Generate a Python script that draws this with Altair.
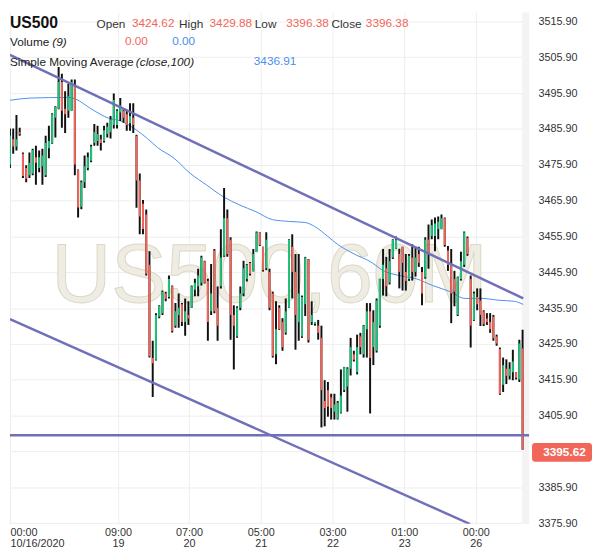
import altair as alt
import pandas as pd

# ---------------- data ----------------
opens = [3476, 3483, 3481, 3485, 3479, 3475, 3473, 3473.5, 3478, 3475,
         3475.5, 3473, 3480.5, 3482, 3489, 3491.5, 3499, 3491.5, 3491, 3491,
         3498, 3474.5, 3464.2, 3471, 3475, 3477, 3482, 3482.5, 3483, 3482.5,
         3484.5, 3485, 3487, 3487, 3490.5, 3491, 3490, 3487.5, 3489, 3484,
         3471.5, 3465, 3462, 3448, 3422, 3421.5, 3433.5, 3434.5, 3440, 3439,
         3442, 3431, 3434, 3437, 3432, 3434, 3436, 3441, 3442, 3443,
         3449, 3443.5, 3435, 3452, 3436, 3442, 3450.5, 3461, 3455, 3434,
         3428, 3436, 3440, 3444, 3448.5, 3446, 3451.5, 3457, 3453, 3447,
         3446, 3440, 3423, 3436, 3432, 3429, 3436, 3453, 3446, 3432,
         3428, 3437, 3449.5, 3432, 3431.5, 3431, 3427.6, 3410, 3413, 3411,
         3407, 3405, 3406.7, 3413, 3414, 3419, 3423, 3418, 3428, 3423,
         3430, 3435, 3425, 3424, 3431, 3444, 3447, 3443, 3450, 3452.5,
         3451, 3453, 3446, 3444, 3450, 3446, 3451, 3446, 3444.5, 3455,
         3456, 3456, 3458, 3458, 3461, 3452, 3448, 3444, 3434, 3444,
         3448, 3455.5, 3444, 3432.5, 3439, 3438, 3435, 3433, 3432, 3433.5,
         3428, 3424.5, 3414.5, 3419, 3417, 3418, 3418, 3416, 3424.62]
highs = [3486, 3486, 3489.8, 3486.2, 3479.3, 3475.8, 3479.3, 3480.4, 3481.2, 3479.9,
         3480.4, 3484, 3486.8, 3490.3, 3492.2, 3503.2, 3501.3, 3496.4, 3498.6, 3499.7,
         3499.7, 3474.6, 3471.5, 3478.5, 3479.3, 3481.5, 3487.3, 3486.8, 3484.3, 3486.8,
         3487.6, 3489.5, 3495.8, 3491.4, 3494.5, 3491.4, 3490.9, 3493.1, 3493.1, 3484.3,
         3473.5, 3466.1, 3463.4, 3451.8, 3426.8, 3434.5, 3436.7, 3440.8, 3440.5, 3445,
         3442.2, 3437.3, 3440, 3437.3, 3438.6, 3437.8, 3442.2, 3444.1, 3446.9, 3450.5,
         3449.1, 3444.1, 3448.2, 3452.4, 3441.9, 3457.9, 3469.4, 3463.4, 3455.7, 3436.7,
         3436.4, 3441.9, 3449.1, 3448.2, 3448.8, 3452.4, 3457.3, 3457.1, 3453, 3457.1,
         3446.9, 3440.5, 3437.8, 3436.7, 3433.1, 3438.6, 3455.1, 3456.5, 3451, 3451,
         3439.4, 3450.2, 3449.6, 3437.8, 3432, 3432.6, 3431, 3415.8, 3415.3, 3412,
         3412, 3410, 3418.8, 3419.5, 3419.4, 3427.6, 3424, 3428.5, 3429, 3431.2,
         3437.3, 3437.3, 3435.3, 3438.6, 3444.1, 3452.4, 3450.2, 3452.4, 3455.1, 3455.9,
         3452.5, 3453, 3451, 3451, 3453.7, 3453, 3453, 3447.4, 3455.7, 3459.2,
         3460.6, 3461.2, 3461.5, 3462, 3461.2, 3453.2, 3452.4, 3446.3, 3444.7, 3451.6,
         3457.3, 3455.9, 3445, 3440.5, 3441.4, 3441.4, 3435.3, 3434.5, 3434.5, 3434,
         3428.5, 3424.9, 3422.1, 3421.6, 3420.8, 3424.3, 3418, 3427.1, 3429.88]
lows = [3475, 3479, 3479.9, 3484, 3472.2, 3471, 3472.2, 3473, 3470.3, 3473.8,
        3470.3, 3472.5, 3477.7, 3481.8, 3483.5, 3491.4, 3486.2, 3484.8, 3489, 3491,
        3473, 3461.2, 3463.5, 3469.4, 3474.4, 3476.6, 3481.2, 3481.2, 3479.9, 3482.1,
        3483.5, 3483.2, 3486, 3486, 3488.1, 3487.6, 3485.4, 3485.4, 3484.8, 3463.9,
        3456.5, 3456.5, 3445, 3422.1, 3411.1, 3421.3, 3433.1, 3434, 3437.8, 3438.6,
        3429.1, 3430.4, 3430.4, 3430.9, 3428.2, 3431.2, 3435.9, 3439.2, 3439.2, 3442.2,
        3442.8, 3426.8, 3434, 3434.5, 3426.8, 3441.4, 3450.2, 3450.2, 3427.1, 3418.8,
        3427.6, 3435.3, 3439.2, 3443.3, 3445, 3446.3, 3451.6, 3453.2, 3446.1, 3446.5,
        3435.3, 3422.1, 3420.2, 3429.8, 3424, 3428.5, 3435.9, 3438.6, 3424.3, 3426.8,
        3427.6, 3433.7, 3426.3, 3431.2, 3431, 3427.1, 3402.6, 3402.9, 3405.6, 3404.8,
        3404.8, 3404.8, 3406.5, 3412.5, 3407, 3417.1, 3421, 3417.4, 3423, 3422.1,
        3422.1, 3406.5, 3420, 3423.5, 3430.4, 3439.4, 3439.2, 3442.5, 3449.6, 3452.4,
        3441.4, 3440.8, 3440.8, 3443.5, 3443.6, 3444.7, 3447.4, 3436.7, 3444.1, 3446.9,
        3455.1, 3451.8, 3455.1, 3457.9, 3453, 3446.3, 3431.7, 3436.4, 3433.7, 3443.6,
        3447.4, 3450.5, 3424.9, 3432.3, 3435.3, 3430.9, 3430.9, 3431.2, 3429, 3426.8,
        3425.4, 3411.7, 3412.5, 3414.7, 3416, 3415.8, 3416, 3415.3, 3396.38]
closes = [3484, 3481, 3483, 3484.5, 3472.8, 3472, 3476.5, 3480, 3476.5, 3478,
          3478.5, 3482, 3482.5, 3490, 3492, 3499, 3491, 3490, 3495, 3499,
          3476, 3464, 3471, 3475.5, 3478, 3481, 3485, 3484.5, 3482, 3485.5,
          3486.5, 3488.5, 3494, 3491, 3492.5, 3489, 3487, 3489.5, 3487, 3471.5,
          3461.5, 3458, 3445.5, 3422.5, 3420.5, 3434, 3436.5, 3440.5, 3438.5, 3444,
          3429.5, 3435, 3436, 3432, 3435, 3433, 3442, 3443, 3445, 3450,
          3443, 3432, 3440, 3435, 3431, 3450, 3461, 3451, 3434, 3431,
          3436, 3440, 3447, 3448, 3445.5, 3451, 3457, 3453.5, 3446.5, 3455,
          3436, 3422.5, 3430, 3430, 3425, 3435, 3455, 3446, 3434, 3440,
          3439, 3450, 3427, 3434, 3432, 3429, 3413, 3408, 3408.4, 3408,
          3409, 3409.5, 3411.5, 3419.4, 3419, 3425, 3421.5, 3425, 3425, 3431,
          3435, 3422, 3432, 3438, 3444, 3448, 3442, 3449, 3455, 3455,
          3446, 3448.5, 3443.5, 3450.5, 3446, 3450, 3448.5, 3440, 3455, 3451,
          3459, 3459.5, 3460, 3461, 3453.5, 3448, 3440, 3440.5, 3444.5, 3449,
          3457, 3451, 3431, 3440, 3437, 3434, 3431.5, 3432, 3430, 3427.5,
          3426, 3412, 3420, 3417, 3419, 3421, 3416.5, 3426, 3396.38]

sma_idx = [0, 6.1, 18.2, 20.3, 25.2, 30.3, 34.2, 38.5, 42.4, 45.5, 50.6, 55.5,
           60.6, 65.8, 70.6, 75.8, 80.9, 85.8, 90.9, 93.9, 97.9, 100.9, 106.1,
           111.2, 115.2, 120.3, 125.2, 130.3, 135.5, 140.3, 145.5, 150.6, 155.5, 158.2]
sma_val = [3493.9, 3494.5, 3494.7, 3494.2, 3491.4, 3488.95, 3488.1, 3485.9, 3483.2,
           3480.7, 3477.7, 3473.55, 3470.25, 3466.95, 3464.75, 3462.8, 3460.6, 3460.1,
           3459.8, 3458.7, 3455.95, 3453.75, 3451.0, 3448.8, 3446.3, 3444.95, 3444.1,
           3442.2, 3440.55, 3438.6, 3438.6, 3438.1, 3437.8, 3436.91]

upper_idx = [0, 158.2]
upper_val = [3506.55, 3438.6]
lower_idx = [0, 141.8]
lower_val = [3432.85, 3375.65]
support_level = 3400.4
last_price = 3395.62

tick_pos = [0, 33.3, 55.2, 77.3, 99.4, 121.5, 143.6]
tick_time = ["00:00", "09:00", "07:00", "05:00", "03:00", "01:00", "00:00"]
tick_date = ["10/16/2020", "19", "20", "21", "22", "23", "26"]
y_ticks = [3375.9 + 10 * k for k in range(15)]

symbol = "US500"
ohlc_names = ["Open", "High", "Low", "Close"]
ohlc_values = [3424.62, 3429.88, 3396.38, 3396.38]
volume_values = [0.00, 0.00]
sma_last = 3436.91
watermark = "US500,60M"

# ---------------- style ----------------
W, H = 528, 520
GREEN = "#1fc47c"
RED = "#f2665a"
BLUE = "#4a90ee"
PURPLE = "#7070b8"
FONT = "Liberation Sans"

xscale = alt.Scale(domain=[0, 160], nice=False, zero=False)
yscale = alt.Scale(domain=[3375.7, 3518.37], nice=False, zero=False)

label_expr = "".join(
    f"datum.value == {p} ? ['{t}', '{d}'] : " for p, t, d in zip(tick_pos, tick_time, tick_date)
) + "''"

xaxis = alt.Axis(values=tick_pos, labelExpr=label_expr, grid=True, gridColor="#eeeeee",
                 ticks=False, domain=False, labelFont=FONT, labelFontSize=11,
                 labelColor="#333333", labelFlush=True, labelOverlap=False,
                 labelPadding=3, labelLineHeight=11, title=None)
yaxis = alt.Axis(orient="right", values=y_ticks, grid=True,
                 labelExpr=f"abs(datum.value - {last_price}) < 3 ? '' : format(datum.value, '.2f')",
                 gridColor="#eeeeee", ticks=False, domain=False, labelFont=FONT,
                 labelFontSize=11, labelColor="#333333", labelPadding=9, title=None,
                 labelOverlap=False)

df = pd.DataFrame({"i": list(range(len(opens))), "open": opens, "high": highs,
                   "low": lows, "close": closes})
sma_df = pd.DataFrame({"i": sma_idx, "v": sma_val})
up_df = pd.DataFrame({"i": upper_idx, "v": upper_val})
lo_df = pd.DataFrame({"i": lower_idx, "v": lower_val})

one = alt.Data(values=[{}])

wick = alt.Chart(df).mark_rule(color="#111111", strokeWidth=2, clip=True).encode(
    x=alt.X("i:Q", scale=xscale, axis=xaxis),
    y=alt.Y("low:Q", scale=yscale, axis=yaxis),
    y2="high:Q",
)
body = alt.Chart(df).mark_rule(strokeWidth=2, clip=True).encode(
    x=alt.X("i:Q", scale=xscale, axis=xaxis),
    y=alt.Y("open:Q", scale=yscale, axis=yaxis),
    y2="close:Q",
    color=alt.condition("datum.close >= datum.open", alt.value(GREEN), alt.value(RED)),
)

hatch = alt.Chart(one).mark_rect(color="#f3f3f3").encode(
    x=alt.value(W - 7), x2=alt.value(W), y=alt.value(0), y2=alt.value(H))

wm = alt.Chart(one).mark_text(text=watermark, fontSize=84, font=FONT,
                              color="#efece3", stroke="#ddd8c6", strokeWidth=1,
                              align="center", baseline="alphabetic").encode(
    x=alt.value(264), y=alt.value(294))

sma = alt.Chart(sma_df).mark_line(color=BLUE, strokeWidth=1, clip=True, interpolate="monotone").encode(
    x=alt.X("i:Q", scale=xscale, axis=xaxis), y=alt.Y("v:Q", scale=yscale, axis=yaxis))
upper = alt.Chart(up_df).mark_line(color=PURPLE, strokeWidth=2.5, clip=True).encode(
    x=alt.X("i:Q", scale=xscale, axis=xaxis), y=alt.Y("v:Q", scale=yscale, axis=yaxis))
lower = alt.Chart(lo_df).mark_line(color=PURPLE, strokeWidth=2.5, clip=True).encode(
    x=alt.X("i:Q", scale=xscale, axis=xaxis), y=alt.Y("v:Q", scale=yscale, axis=yaxis))
support = alt.Chart(alt.Data(values=[{"v": support_level}])).mark_rule(
    color=PURPLE, strokeWidth=2.5).encode(y=alt.Y("v:Q", scale=yscale, axis=yaxis))

box_df = pd.DataFrame({"p": [last_price]})
pbox = alt.Chart(box_df).transform_calculate(
    lo=f"datum.p - {9.5 / 3.645}", hi=f"datum.p + {9.5 / 3.645}"
).mark_rect(color=RED, cornerRadius=3).encode(
    x=alt.value(W + 3), x2=alt.value(W + 64),
    y=alt.Y("lo:Q", scale=yscale, axis=yaxis), y2="hi:Q")
ptext = alt.Chart(box_df).mark_text(color="white", fontWeight="bold", fontSize=12,
                                    font=FONT, align="center", baseline="middle").encode(
    x=alt.value(W + 36), y=alt.Y("p:Q", scale=yscale, axis=yaxis),
    text=alt.Text("p:Q", format=".2f"))


def label(text, x, y, color="#333333", size=12, weight="normal", style="normal"):
    return alt.Chart(one).mark_text(text=text, fontSize=size, fontWeight=weight,
                                    fontStyle=style, font=FONT, color=color,
                                    align="left", baseline="middle").encode(
        x=alt.value(x), y=alt.value(y))


hdr = [label(symbol, 0, 11, "#111111", 16, "bold")]
name_x = [88, 172, 249, 327]
val_x = [124, 203, 281, 362]
for n, v, nx, vx in zip(ohlc_names, ohlc_values, name_x, val_x):
    hdr.append(label(n, nx, 12, "#333333", 12))
    hdr.append(label(f"{v:.2f}", vx, 11, RED, 12))
hdr.append(label("Volume", 0, 30, "#222222", 12))
hdr.append(label("(9)", 43, 30, "#222222", 12, style="italic"))
hdr.append(label(f"{volume_values[0]:.2f}", 117, 29, RED, 12))
hdr.append(label(f"{volume_values[1]:.2f}", 165, 29, BLUE, 12))
hdr.append(label("Simple Moving Average", 0, 50, "#222222", 12))
hdr.append(label("(close,100)", 128, 50, "#222222", 12, style="italic"))
hdr.append(label(f"{sma_last:.2f}", 248, 49, BLUE, 12))

chart = alt.layer(hatch, wm, sma, wick, body, upper, lower, support, pbox, ptext, *hdr).properties(
    width=W, height=H, padding=0
).configure_view(stroke=None)

chart.save("out.html", embed_options={"renderer": "svg", "actions": False})
